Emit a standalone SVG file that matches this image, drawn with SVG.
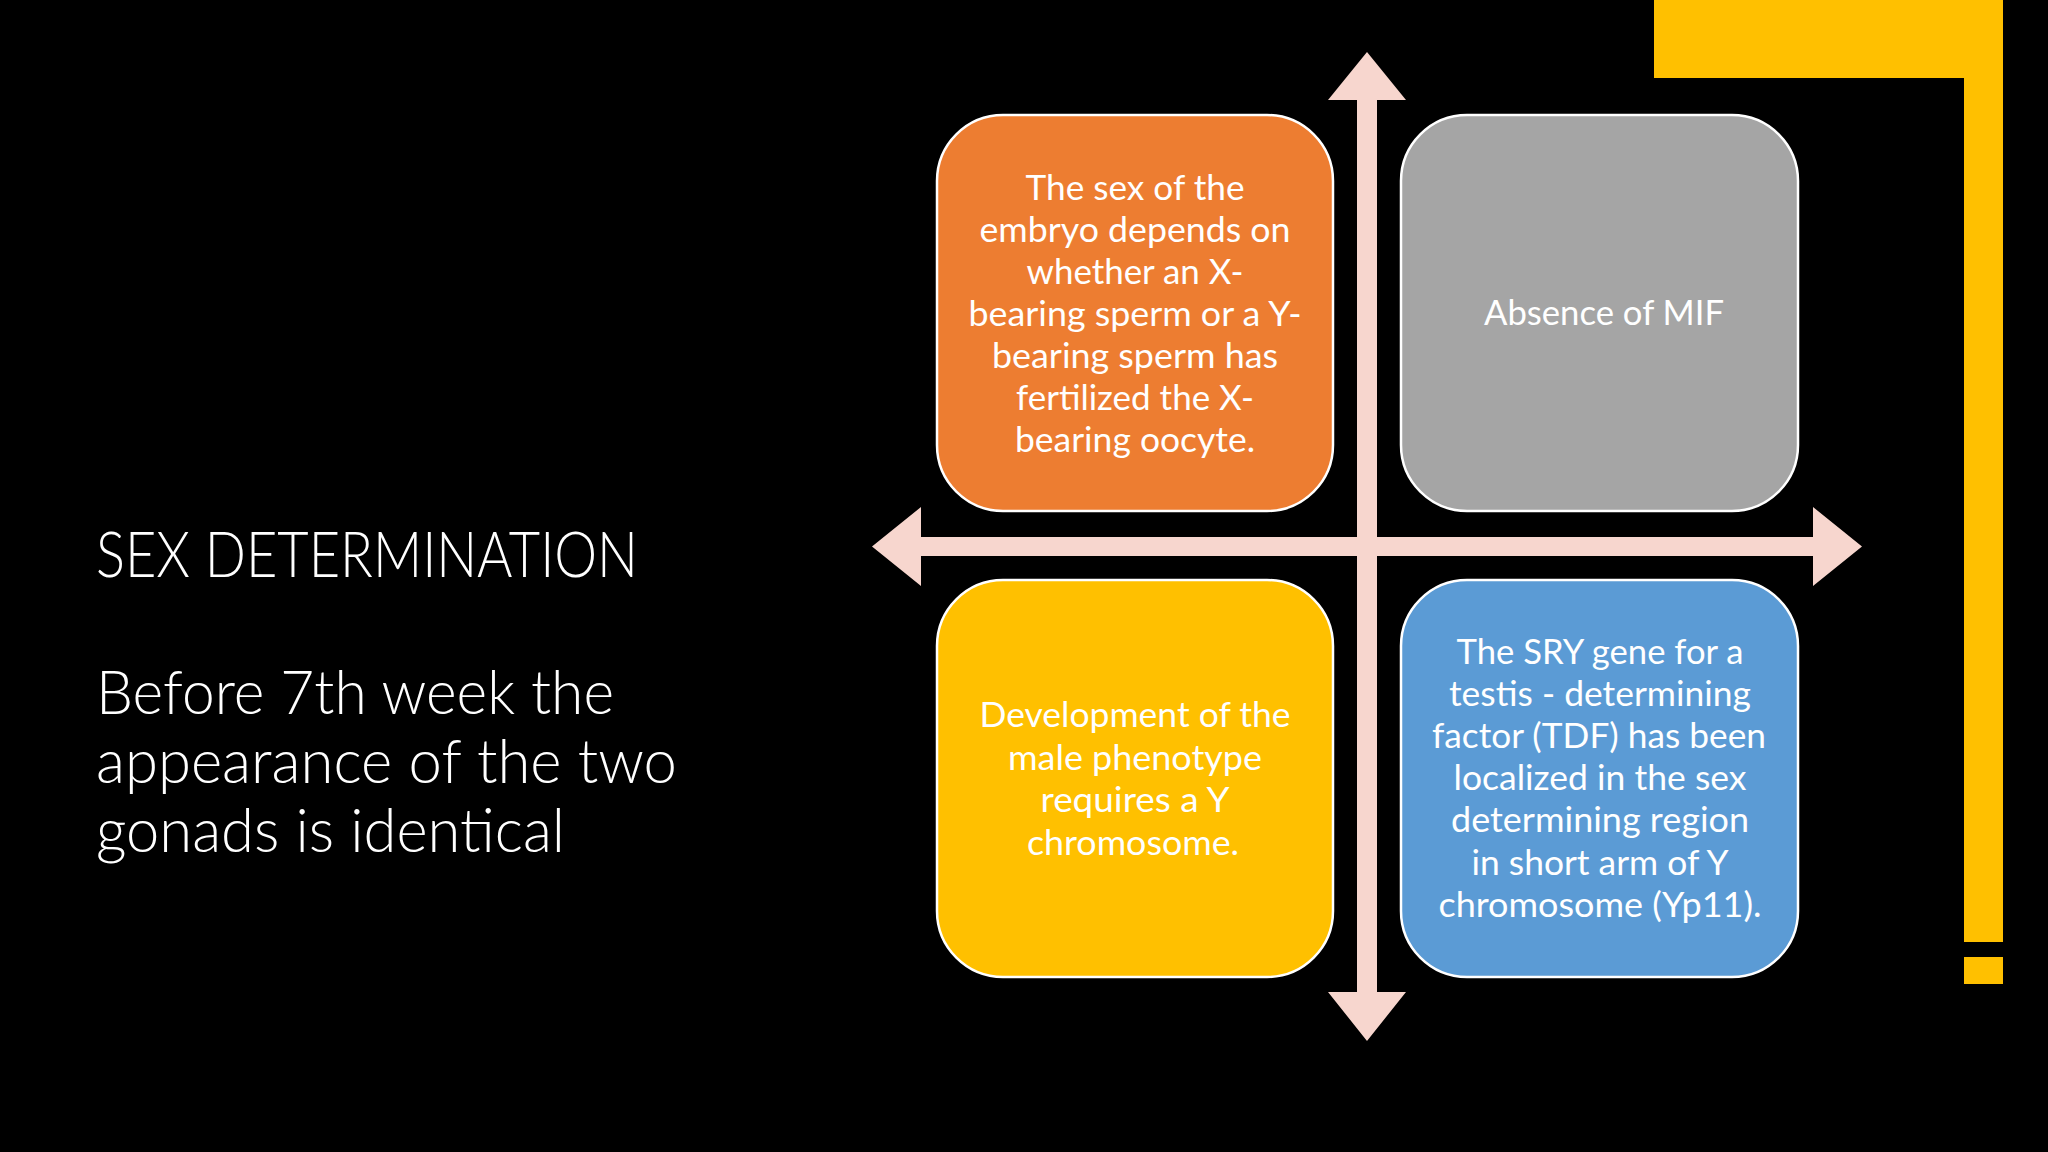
<svg xmlns="http://www.w3.org/2000/svg" width="2048" height="1152" viewBox="0 0 2048 1152">
<style>
.title{font-family:Lato,"Open Sans","Liberation Sans",sans-serif;font-weight:300;fill:#FFFFFF}
.box{stroke:#FFFFFF;stroke-width:2.5}
.bt{font-family:Lato,"Open Sans","Liberation Sans",sans-serif;font-size:34px;fill:#FFFFFF;text-anchor:middle}
.arrow{fill:#F7D6CE}
.accent{fill:#FFC000}
</style>
<rect x="0" y="0" width="2048" height="1152" fill="#000000"/>
<g id="accent">
<path class="accent" d="M1654,0 H2003 V942 H1964 V78 H1654 Z"/>
<rect class="accent" x="1964" y="957" width="39" height="27"/>
</g>
<g id="heading">
<text class="title" x="96" y="577" font-size="63" textLength="542" lengthAdjust="spacingAndGlyphs">SEX DETERMINATION</text>
<text class="title" x="96" y="714" font-size="61" textLength="518" lengthAdjust="spacingAndGlyphs">Before 7th week the</text>
<text class="title" x="96" y="783" font-size="61" textLength="581" lengthAdjust="spacingAndGlyphs">appearance of the two</text>
<text class="title" x="96" y="852" font-size="61" textLength="469" lengthAdjust="spacingAndGlyphs">gonads is identical</text>
</g>
<g id="connectors">
<path class="arrow" d="M872,546.5 L921,507 L921,537 L1813,537 L1813,507 L1862,546.5 L1813,586 L1813,556 L921,556 L921,586 Z"/>
<path class="arrow" d="M1367,52 L1406,100 L1377,100 L1377,992 L1406,992 L1367,1041 L1328,992 L1357,992 L1357,100 L1328,100 Z"/>
</g>
<g id="node-orange">
<rect class="box" x="937" y="115" width="396" height="396" rx="66" ry="66" fill="#ED7D31"/>
<text class="bt" x="1135" y="200" textLength="219" lengthAdjust="spacingAndGlyphs">The sex of the</text>
<text class="bt" x="1135" y="242" textLength="311" lengthAdjust="spacingAndGlyphs">embryo depends on</text>
<text class="bt" x="1135" y="284" textLength="217" lengthAdjust="spacingAndGlyphs">whether an X-</text>
<text class="bt" x="1135" y="326" textLength="333" lengthAdjust="spacingAndGlyphs">bearing sperm or a Y-</text>
<text class="bt" x="1135" y="368" textLength="286" lengthAdjust="spacingAndGlyphs">bearing sperm has</text>
<text class="bt" x="1135" y="410" textLength="238" lengthAdjust="spacingAndGlyphs">fertilized the X-</text>
<text class="bt" x="1135" y="452" textLength="240" lengthAdjust="spacingAndGlyphs">bearing oocyte.</text>
</g>
<g id="node-gray">
<rect class="box" x="1401" y="115" width="397" height="396" rx="66" ry="66" fill="#A5A5A5"/>
<text class="bt" x="1604" y="325" textLength="240" lengthAdjust="spacingAndGlyphs">Absence of MIF</text>
</g>
<g id="node-yellow">
<rect class="box" x="937" y="580" width="396" height="397" rx="66" ry="66" fill="#FFC000"/>
<text class="bt" x="1135" y="727" textLength="311" lengthAdjust="spacingAndGlyphs">Development of the</text>
<text class="bt" x="1135" y="770" textLength="254" lengthAdjust="spacingAndGlyphs">male phenotype</text>
<text class="bt" x="1135" y="812" textLength="189" lengthAdjust="spacingAndGlyphs">requires a Y</text>
<text class="bt" x="1133" y="855" textLength="212" lengthAdjust="spacingAndGlyphs">chromosome.</text>
</g>
<g id="node-blue">
<rect class="box" x="1401" y="580" width="397" height="397" rx="66" ry="66" fill="#5B9BD5"/>
<text class="bt" x="1600" y="664" textLength="287" lengthAdjust="spacingAndGlyphs">The SRY gene for a</text>
<text class="bt" x="1600" y="706" textLength="302" lengthAdjust="spacingAndGlyphs">testis - determining</text>
<text class="bt" x="1599" y="748" textLength="334" lengthAdjust="spacingAndGlyphs">factor (TDF) has been</text>
<text class="bt" x="1600" y="790" textLength="293" lengthAdjust="spacingAndGlyphs">localized in the sex</text>
<text class="bt" x="1600" y="832" textLength="298" lengthAdjust="spacingAndGlyphs">determining region</text>
<text class="bt" x="1600" y="875" textLength="257" lengthAdjust="spacingAndGlyphs">in short arm of Y</text>
<text class="bt" x="1600" y="917" textLength="323" lengthAdjust="spacingAndGlyphs">chromosome (Yp11).</text>
</g>
</svg>
